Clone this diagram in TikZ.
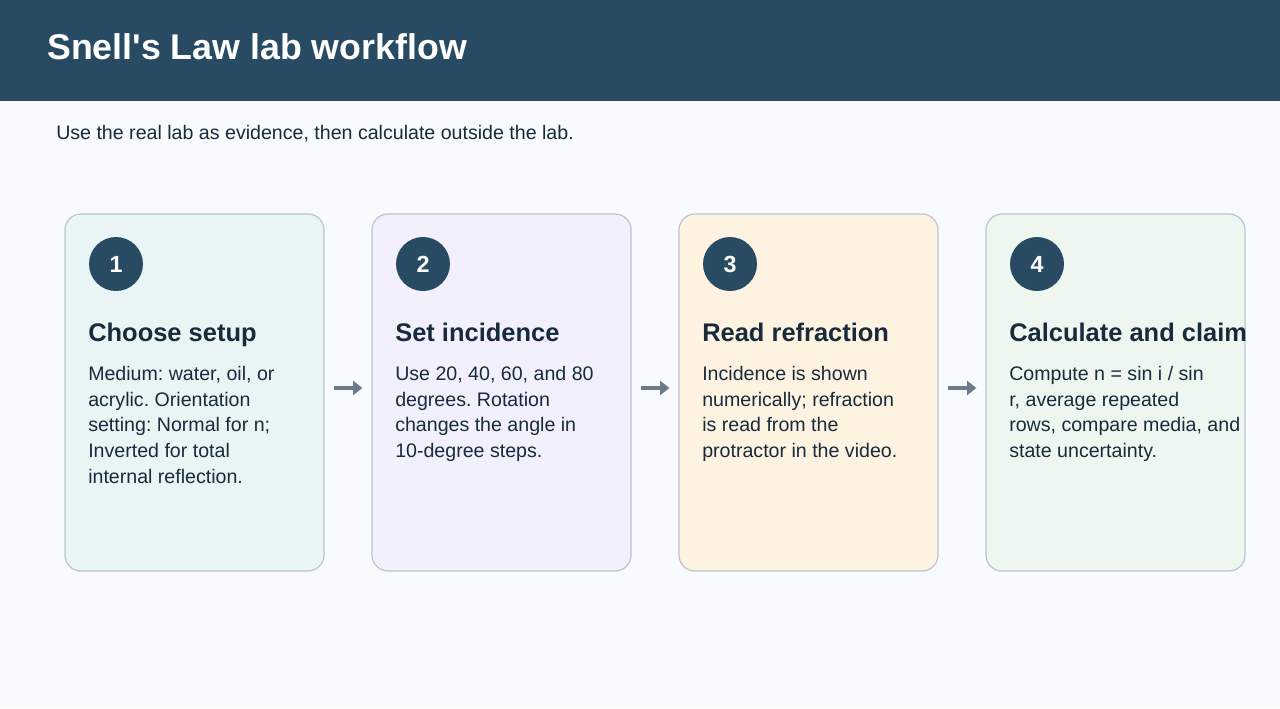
\documentclass[tikz,border=0pt]{standalone}
\usepackage{fontspec}
\setmainfont{Liberation Sans}
\usetikzlibrary{positioning,arrows.meta}
\definecolor{header}{HTML}{284B63}
\definecolor{page}{HTML}{F8FAFD}
\definecolor{ink}{HTML}{172B3D}
\definecolor{edge}{HTML}{B8C6D2}
\definecolor{muted}{HTML}{6B7B8C}
\definecolor{tealbg}{HTML}{E9F4F4}
\definecolor{lilacbg}{HTML}{F2F0FC}
\definecolor{creambg}{HTML}{FEF3E1}
\definecolor{mintbg}{HTML}{EDF7EF}
\frenchspacing
\tikzset{
  card/.style={draw=edge,line width=0.9pt,rounded corners=12pt,
    minimum width=194.25pt,minimum height=267.75pt,inner sep=0pt},
  badge/.style={circle,fill=header,minimum size=40.5pt,inner sep=0pt,
    text=white,font=\fontsize{17.5}{20}\selectfont\bfseries},
  cardhead/.style={anchor=base west,inner sep=0pt,text=ink,
    font=\fontsize{19.1}{23}\selectfont\bfseries},
  cardbody/.style={anchor=north west,inner sep=0pt,align=left,text=ink,
    font=\fontsize{14.7}{19.3}\selectfont},
  flow/.style={draw=muted,line width=2.8pt,-{Triangle[length=7pt,width=10.5pt]},
    shorten <=6.75pt,shorten >=6.75pt}
}
\begin{document}
\begin{tikzpicture}[x=0.75pt,y=-0.75pt]
  \fill[page] (0,0) rectangle (1280,708);
  \useasboundingbox (0,0) rectangle (1280,708);
  \fill[header] (0,0) rectangle (1280,101);
  \node[anchor=base west,inner sep=0pt,text=white,
    font=\fontsize{26.8}{30}\selectfont\bfseries] (title) at (47,59)
    {Snell\textquotesingle s Law lab workflow};
  \node[anchor=base west,inner sep=0pt,text=ink,
    font=\fontsize{14.7}{17}\selectfont] (subtitle) at (56,139)
    {Use the real lab as evidence, then calculate outside the lab.};
  % one card per step of the lab, left to right
  \foreach \i/\x/\bg/\head/\body in {%
    1/65/tealbg/{Choose setup}/{Medium: water, oil, or\\acrylic. Orientation\\setting: Normal for n;\\Inverted for total\\internal reflection.},
    2/372/lilacbg/{Set incidence}/{Use 20, 40, 60, and 80\\degrees. Rotation\\changes the angle in\\10-degree steps.},
    3/679/creambg/{Read refraction}/{Incidence is shown\\numerically; refraction\\is read from the\\protractor in the video.},
    4/986/mintbg/{Calculate and claim}/{Compute n = sin i / sin\\r, average repeated\\rows, compare media, and\\state uncertainty.}}{
    \node[card,fill=\bg] (card\i) at (\x+129.5,392.5) {};
    \node[badge] (num\i) at (\x+51,264) {\i};
    \node[cardhead] (head\i) at (\x+23,341) {\head};
    \node[cardbody] (body\i) at (\x+23,366) {\body};}
  \foreach \a/\b in {1/2,2/3,3/4}
    \draw[flow] ([yshift=3.4pt]card\a.east) -- ([yshift=3.4pt]card\b.west);
\end{tikzpicture}
\end{document}
